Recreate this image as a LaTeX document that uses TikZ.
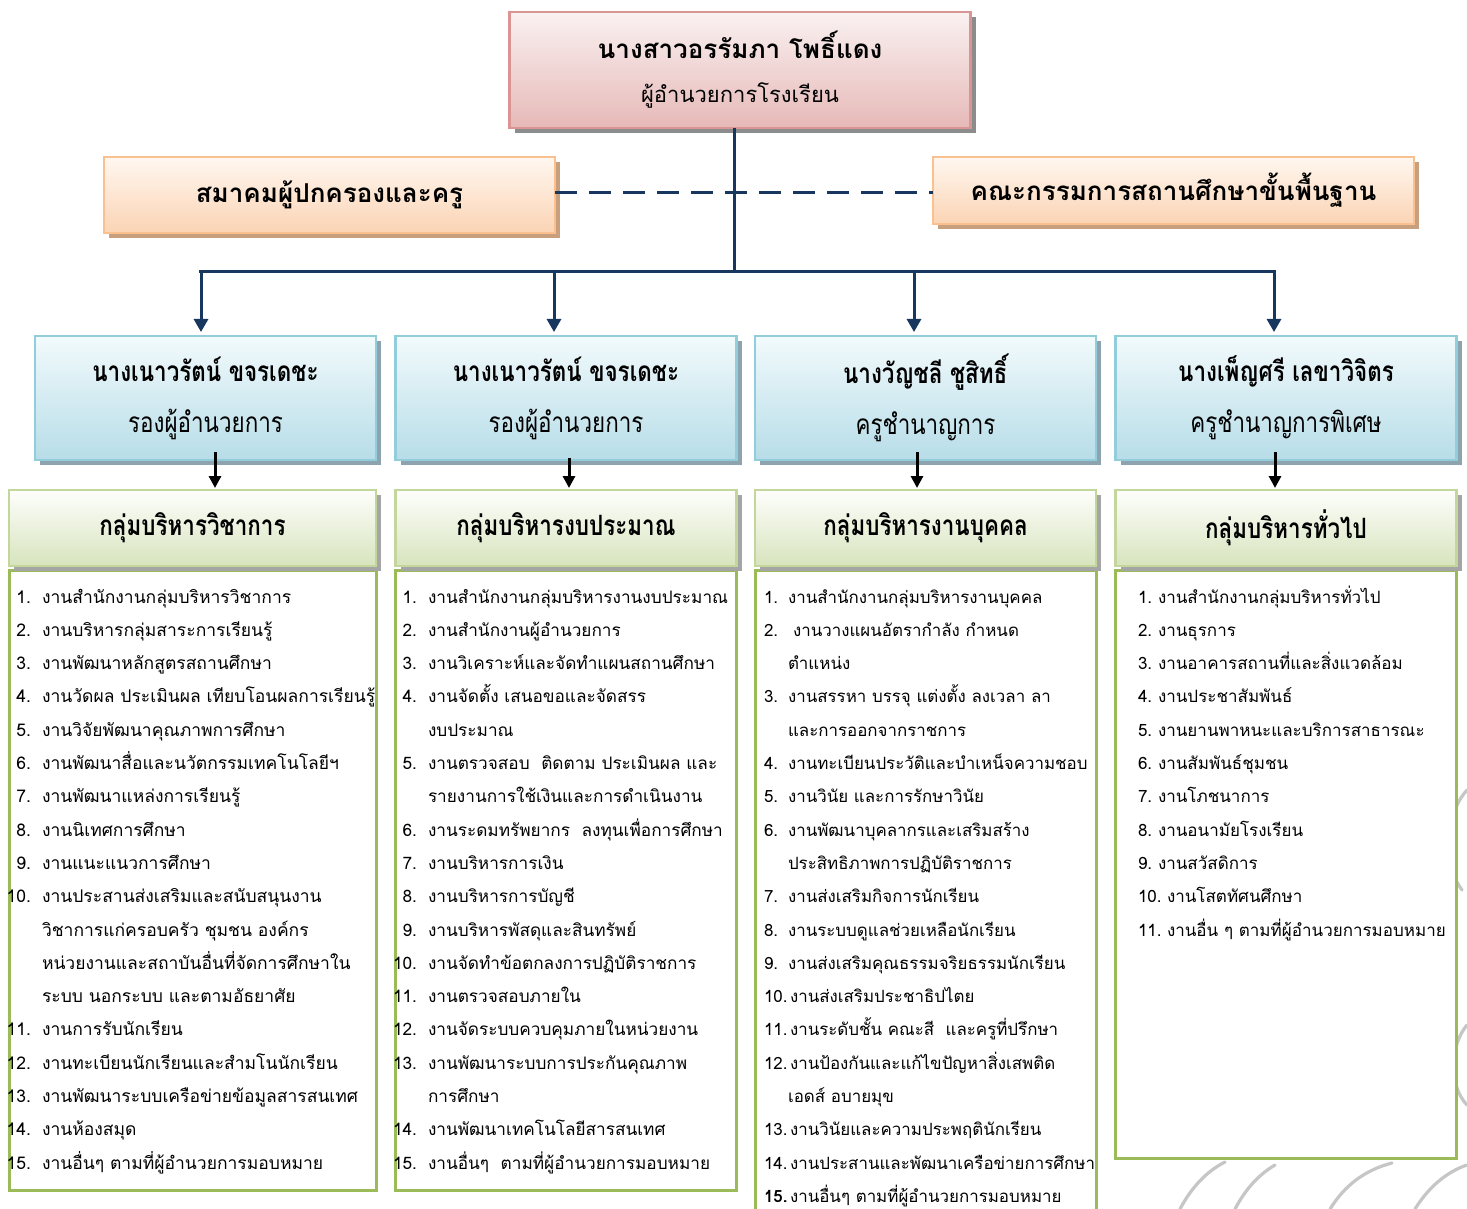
\documentclass[tikz,border=0pt]{standalone}
\usepackage{fontspec}
\setmainfont[Script=Thai]{Loma}
\newfontfamily\condthai[Script=Thai,FakeStretch=0.8]{Loma}
\usetikzlibrary{arrows.meta,shadows}
\definecolor{navy}{HTML}{17375E}
\definecolor{pinkB}{HTML}{D99594}
\definecolor{pinkT}{HTML}{FAF1F1}
\definecolor{pinkD}{HTML}{E6B9B8}
\definecolor{pinkS}{HTML}{8C8C8C}
\definecolor{orB}{HTML}{FAC090}
\definecolor{orT}{HTML}{FFF7F0}
\definecolor{orD}{HTML}{FBD4B4}
\definecolor{orS}{HTML}{C9A07E}
\definecolor{blB}{HTML}{92CDDC}
\definecolor{blT}{HTML}{F2FAFC}
\definecolor{blD}{HTML}{B7DDE8}
\definecolor{blS}{HTML}{8DA4AE}
\definecolor{grB}{HTML}{C3D69B}
\definecolor{grT}{HTML}{FEFEFC}
\definecolor{grD}{HTML}{D7E4BD}
\definecolor{grS}{HTML}{A5A5A5}
\definecolor{lstB}{HTML}{9BBB59}
\tikzset{
  every node/.style={inner sep=0pt, outer sep=0pt},
  pinkbox/.style={draw=pinkB, line width=1.2pt, top color=pinkT, bottom color=pinkD,
    general shadow={fill=pinkS, shadow xshift=2.5pt, shadow yshift=-2.5pt},
    align=center},
  orbox/.style={draw=orB, line width=1.2pt, top color=orT, bottom color=orD,
    general shadow={fill=orS, shadow xshift=2.5pt, shadow yshift=-2.5pt},
    align=center, font=\bfseries\fontsize{13}{16}\selectfont},
  blbox/.style={draw=blB, line width=1.2pt, top color=blT, bottom color=blD,
    general shadow={fill=blS, shadow xshift=2.5pt, shadow yshift=-2.5pt},
    minimum width=170.5pt, minimum height=62pt, align=center,
    font=\condthai\fontsize{14}{25.5}\selectfont},
  grbox/.style={draw=grB, line width=1.2pt, top color=grT, bottom color=grD,
    general shadow={fill=grS, shadow xshift=2.5pt, shadow yshift=-2.5pt},
    minimum height=38pt, align=center,
    font=\condthai\bfseries\fontsize{14}{16}\selectfont},
  lstbox/.style={draw=lstB, line width=1.5pt, fill=white},
  itmA/.style={font=\fontsize{8.75}{11}\selectfont, anchor=base west},
  itmB/.style={font=\fontsize{8.6}{11}\selectfont, anchor=base west},
  itmC/.style={font=\fontsize{8.45}{11}\selectfont, anchor=base west},
  itmD/.style={font=\fontsize{8.5}{11}\selectfont, anchor=base west},
  navyline/.style={draw=navy, line width=1.5pt},
  navyarrow/.style={draw=navy, line width=1.5pt, -{Triangle[width=7pt,length=6.5pt]}},
  blackarrow/.style={draw=black, line width=1.5pt, -{Triangle[width=6pt,length=6pt]}},
  wm/.style={draw=gray!45, line width=1.6pt, line cap=round}
}
\begin{document}
\begin{tikzpicture}[x=0.5pt, y=-0.5pt]
\useasboundingbox (0,0) rectangle (1467,1209);
\fill[white] (0,0) rectangle (1467,1209);

% watermark sketch (background)
\draw[wm] (1467,790) .. controls (1445,815) and (1440,860) .. (1462,890);
\draw[wm] (1467,1025) .. controls (1450,1045) and (1448,1085) .. (1467,1105);
\draw[wm] (1180,1209) .. controls (1190,1190) and (1205,1172) .. (1225,1162);
\draw[wm] (1235,1209) .. controls (1245,1190) and (1258,1175) .. (1275,1165);
\draw[wm] (1330,1209) .. controls (1345,1185) and (1365,1170) .. (1392,1163);
\draw[wm] (1415,1209) .. controls (1428,1188) and (1446,1172) .. (1467,1165);

% top
\node[pinkbox, minimum width=230.5pt, minimum height=58pt] (top) at (740,70)
  {{\bfseries\fontsize{13}{22.5}\selectfont นางสาวอรรัมภา โพธิ์แดง}\\[10pt]
   {\fontsize{11}{14}\selectfont ผู้อำนวยการโรงเรียน}};

% side boxes
\node[orbox, minimum width=225.5pt, minimum height=38pt] (o1) at (329.5,195) {สมาคมผู้ปกครองและครู};
\node[orbox, minimum width=240.5pt, minimum height=33.5pt] (o2) at (1173.5,190.5) {คณะกรรมการสถานศึกษาขั้นพื้นฐาน};

% trunk and bus
\coordinate (tj) at (734,272);
\coordinate (dl) at (600,193);
\coordinate (bl) at (199,272);
\coordinate (br) at (1276,272);
\draw[navyline] (top.south -| tj) -- (tj);
\draw[navyline, dash pattern=on 11pt off 6pt] (o1.east |- dl) -- (o2.west |- dl);
\draw[navyline] (bl) -- (br);

% deputies
\node[blbox] (b1) at (205.5,398) {\textbf{นางเนาวรัตน์ ขจรเดชะ}\\รองผู้อำนวยการ};
\node[blbox] (b2) at (566,398) {\textbf{นางเนาวรัตน์ ขจรเดชะ}\\รองผู้อำนวยการ};
\node[blbox] (b3) at (925.5,398) {\textbf{นางวัญชลี ชูสิทธิ์}\\ครูชำนาญการ};
\node[blbox] (b4) at (1286,398) {\textbf{นางเพ็ญศรี เลขาวิจิตร}\\ครูชำนาญการพิเศษ};

\coordinate (d1) at (201,272);
\coordinate (d2) at (554,272);
\coordinate (d3) at (914,272);
\coordinate (d4) at (1274,272);
\draw[navyarrow] (d1) -- ([yshift=2pt]d1 |- b1.north);
\draw[navyarrow] (d2) -- ([yshift=2pt]d2 |- b2.north);
\draw[navyarrow] (d3) -- ([yshift=2pt]d3 |- b3.north);
\draw[navyarrow] (d4) -- ([yshift=2pt]d4 |- b4.north);

% list boxes
\node[lstbox, minimum width=183.5pt, minimum height=310pt] (l1) at (192.5,880) {};
\node[lstbox, minimum width=170.5pt, minimum height=310pt] (l2) at (565.5,880) {};
\node[lstbox, minimum width=170.5pt, minimum height=323pt] (l3) at (925.5,893) {};
\node[lstbox, minimum width=170.5pt, minimum height=294pt] (l4) at (1286,864) {};

% group headers
\node[grbox, minimum width=183.5pt] (g1) at (192.5,528) {กลุ่มบริหารวิชาการ};
\node[grbox, minimum width=170.5pt] (g2) at (566,528) {กลุ่มบริหารงบประมาณ};
\node[grbox, minimum width=170.5pt] (g3) at (925.5,528) {กลุ่มบริหารงานบุคคล};
\node[grbox, minimum width=170.5pt] (g4) at (1286,528) {กลุ่มบริหารทั่วไป};

\coordinate (e1) at (215,452);
\coordinate (e2) at (569,458);
\coordinate (e3) at (917,452);
\coordinate (e4) at (1275,452);
\draw[blackarrow] (e1) -- ([yshift=1pt]e1 |- g1.north);
\draw[blackarrow] (e2) -- ([yshift=1pt]e2 |- g2.north);
\draw[blackarrow] (e3) -- ([yshift=1pt]e3 |- g3.north);
\draw[blackarrow] (e4) -- ([yshift=1pt]e4 |- g4.north);

% column 1
\foreach \n/\t [count=\i] in {
 1./งานสำนักงานกลุ่มบริหารวิชาการ,
 2./งานบริหารกลุ่มสาระการเรียนรู้,
 3./งานพัฒนาหลักสูตรสถานศึกษา,
 4./งานวัดผล ประเมินผล เทียบโอนผลการเรียนรู้,
 5./งานวิจัยพัฒนาคุณภาพการศึกษา,
 6./งานพัฒนาสื่อและนวัตกรรมเทคโนโลยีฯ,
 7./งานพัฒนาแหล่งการเรียนรู้,
 8./งานนิเทศการศึกษา,
 9./งานแนะแนวการศึกษา,
 10./งานประสานส่งเสริมและสนับสนุนงาน,
 /วิชาการแก่ครอบครัว ชุมชน องค์กร,
 /หน่วยงานและสถาบันอื่นที่จัดการศึกษาใน,
 /ระบบ นอกระบบ และตามอัธยาศัย,
 11./งานการรับนักเรียน,
 12./งานทะเบียนนักเรียนและสำมโนนักเรียน,
 13./งานพัฒนาระบบเครือข่ายข้อมูลสารสนเทศ,
 14./งานห้องสมุด,
 15./งานอื่นๆ ตามที่ผู้อำนวยการมอบหมาย}{
  \node[itmA, anchor=base east] (n1-\i) at (31,{603+33.3*(\i-1)}) {\n};
  \node[itmA] (t1-\i) at (42,{603+33.3*(\i-1)}) {\t};
}

% column 2
\foreach \n/\t [count=\i] in {
 1./งานสำนักงานกลุ่มบริหารงานงบประมาณ,
 2./งานสำนักงานผู้อำนวยการ,
 3./งานวิเคราะห์และจัดทำแผนสถานศึกษา,
 4./งานจัดตั้ง เสนอขอและจัดสรร,
 /งบประมาณ,
 5./งานตรวจสอบ~ ติดตาม ประเมินผล และ,
 /รายงานการใช้เงินและการดำเนินงาน,
 6./งานระดมทรัพยากร~ ลงทุนเพื่อการศึกษา,
 7./งานบริหารการเงิน,
 8./งานบริหารการบัญชี,
 9./งานบริหารพัสดุและสินทรัพย์,
 10./งานจัดทำข้อตกลงการปฏิบัติราชการ,
 11./งานตรวจสอบภายใน,
 12./งานจัดระบบควบคุมภายในหน่วยงาน,
 13./งานพัฒนาระบบการประกันคุณภาพ,
 /การศึกษา,
 14./งานพัฒนาเทคโนโลยีสารสนเทศ,
 15./งานอื่นๆ~ ตามที่ผู้อำนวยการมอบหมาย}{
  \node[itmB, anchor=base east] (n2-\i) at (417,{603+33.3*(\i-1)}) {\n};
  \node[itmB] (t2-\i) at (428,{603+33.3*(\i-1)}) {\t};
}

% column 3
\foreach \n/\x/\t [count=\i] in {
 1./788/งานสำนักงานกลุ่มบริหารงานบุคคล,
 2./793/งานวางแผนอัตรากำลัง กำหนด,
 /788/ตำแหน่ง,
 3./788/งานสรรหา บรรจุ แต่งตั้ง ลงเวลา ลา,
 /788/และการออกจากราชการ,
 4./788/งานทะเบียนประวัติและบำเหน็จความชอบ,
 5./788/งานวินัย และการรักษาวินัย,
 6./788/งานพัฒนาบุคลากรและเสริมสร้าง,
 /788/ประสิทธิภาพการปฏิบัติราชการ,
 7./788/งานส่งเสริมกิจการนักเรียน,
 8./788/งานระบบดูแลช่วยเหลือนักเรียน,
 9./788/งานส่งเสริมคุณธรรมจริยธรรมนักเรียน,
 10./790/งานส่งเสริมประชาธิปไตย,
 11./790/งานระดับชั้น คณะสี~ และครูที่ปรึกษา,
 12./790/งานป้องกันและแก้ไขปัญหาสิ่งเสพติด,
 /788/เอดส์ อบายมุข,
 13./790/งานวินัยและความประพฤตินักเรียน,
 14./790/งานประสานและพัฒนาเครือข่ายการศึกษา,
 \textbf{15.}/790/งานอื่นๆ ตามที่ผู้อำนวยการมอบหมาย}{
  \node[itmC] (n3-\i) at (764,{603+33.3*(\i-1)}) {\n};
  \node[itmC] (t3-\i) at (\x,{603+33.3*(\i-1)}) {\t};
}

% column 4
\foreach \n/\x/\t [count=\i] in {
 1./1158/งานสำนักงานกลุ่มบริหารทั่วไป,
 2./1158/งานธุรการ,
 3./1158/งานอาคารสถานที่และสิ่งแวดล้อม,
 4./1158/งานประชาสัมพันธ์,
 5./1158/งานยานพาหนะและบริการสาธารณะ,
 6./1158/งานสัมพันธ์ชุมชน,
 7./1158/งานโภชนาการ,
 8./1158/งานอนามัยโรงเรียน,
 9./1158/งานสวัสดิการ,
 10./1167/งานโสตทัศนศึกษา,
 11./1167/งานอื่น ๆ ตามที่ผู้อำนวยการมอบหมาย}{
  \node[itmD] (n4-\i) at (1138,{603+33.3*(\i-1)}) {\n};
  \node[itmD] (t4-\i) at (\x,{603+33.3*(\i-1)}) {\t};
}
\end{tikzpicture}
\end{document}
